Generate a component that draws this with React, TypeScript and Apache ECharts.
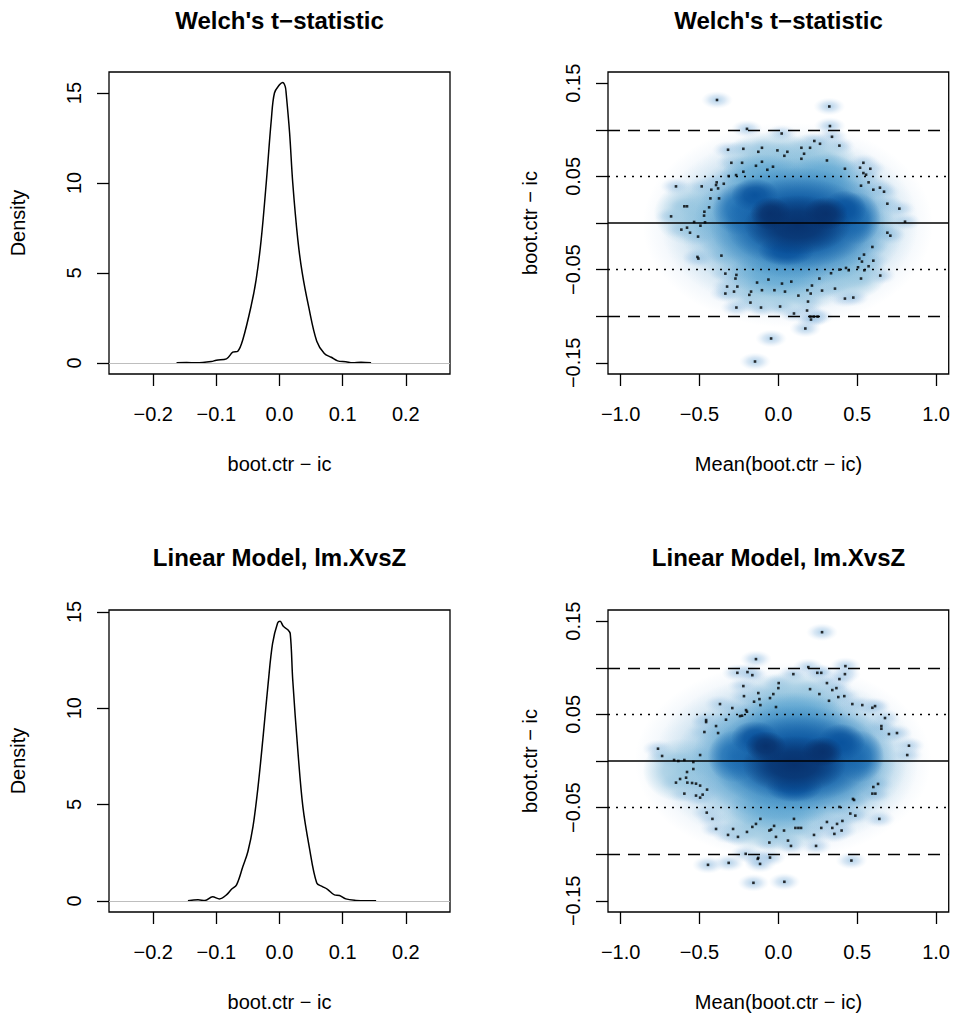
import React, { useEffect, useRef } from "react";
import * as echarts from "echarts";

const FONT = "'Liberation Sans', Arial, Helvetica, sans-serif";

// ---------- texts ----------
const panelTitles = ["Welch's t\u2212statistic", "Welch's t\u2212statistic", "Linear Model, lm.XvsZ", "Linear Model, lm.XvsZ"];
const xNames = ["boot.ctr \u2212 ic", "Mean(boot.ctr \u2212 ic)", "boot.ctr \u2212 ic", "Mean(boot.ctr \u2212 ic)"];
const yNames = ["Density", "boot.ctr \u2212 ic", "Density", "boot.ctr \u2212 ic"];

// ---------- ticks ----------
const densityTicksX = [-0.2, -0.1, 0, 0.1, 0.2];
const densityTicksY = [0, 5, 10, 15];
const meanTicksX = [-1, -0.5, 0, 0.5, 1];
const diffTicksY = [-0.15, -0.1, -0.05, 0, 0.05, 0.1, 0.15];
const diffLabelsY = [-0.15, -0.05, 0.05, 0.15];

// ---------- reference lines ----------
const refSolid = [0];
const refDashed = [-0.1, 0.1];
const refDotted = [-0.05, 0.05];

// ---------- density curves [x, density] ----------
const welchDensity = [
  [-0.163, 0], [-0.147, 0.02], [-0.132, 0], [-0.108, 0.07], [-0.1, 0.15], [-0.084, 0.22],
  [-0.074, 0.59], [-0.066, 0.65], [-0.058, 1.3], [-0.045, 3.15], [-0.037, 4.63], [-0.029, 6.85],
  [-0.021, 10.0], [-0.013, 13.5], [-0.008, 15.0], [0, 15.46], [0.005, 15.59], [0.009, 15.37],
  [0.0105, 15.0], [0.016, 12.78], [0.021, 10.0], [0.029, 6.85], [0.036, 5.0], [0.046, 3.15],
  [0.059, 1.2], [0.071, 0.52], [0.082, 0.31], [0.092, 0.11], [0.105, 0.06], [0.116, 0],
  [0.129, 0.04], [0.145, 0],
];
const lmDensity = [
  [-0.145, 0], [-0.129, 0.05], [-0.118, 0.02], [-0.106, 0.21], [-0.095, 0.1], [-0.084, 0.31],
  [-0.076, 0.6], [-0.068, 0.83], [-0.058, 1.78], [-0.05, 2.56], [-0.042, 3.85], [-0.034, 5.92],
  [-0.026, 8.51], [-0.018, 11.28], [-0.011, 13.35], [-0.003, 14.42], [0.001, 14.52], [0.006, 14.25],
  [0.013, 14.08], [0.017, 13.87], [0.021, 11.45], [0.029, 7.82], [0.037, 4.89], [0.047, 2.82],
  [0.059, 0.92], [0.068, 0.74], [0.076, 0.6], [0.087, 0.31], [0.095, 0.28], [0.105, 0.1],
  [0.121, 0.02], [0.137, 0], [0.153, 0],
];

// ---------- outlying points [mean, difference] ----------
const welchPoints = [
  [-0.389, 0.132], [0.323, 0.125], [-0.199, 0.101], [0.021, 0.096], [0.327, 0.104], [0.34, 0.0925],
  [0.228, 0.088], [0.264, 0.085], [0.387, 0.083], [-0.319, 0.0786], [-0.222, 0.0796], [-0.127, 0.0764],
  [-0.104, 0.0807], [-0.006, 0.0779], [0.057, 0.0764], [0.038, 0.0721], [0.146, 0.0807], [0.201, 0.0807],
  [0.163, 0.0743], [0.146, 0.0689], [0.308, 0.0671], [-0.298, 0.0646], [-0.23, 0.0646], [-0.104, 0.0657],
  [-0.142, 0.0614], [-0.07, 0.0571], [-0.034, 0.0604], [-0.222, 0.055], [-0.315, 0.0504], [-0.268, 0.0514],
  [0.422, 0.0582], [0.518, 0.0593], [0.539, 0.0646], [0.583, 0.0582], [0.539, 0.0536], [0.556, 0.0518],
  [-0.346, 0.0421], [-0.391, 0.0436], [-0.395, 0.0407], [-0.425, 0.0357], [-0.382, 0.0371], [-0.486, 0.0393],
  [-0.649, 0.0393], [0.572, 0.0436], [0.524, 0.04], [0.602, 0.0357], [0.644, 0.0379], [0.67, 0.0336],
  [-0.431, 0.0264], [-0.376, 0.0264], [-0.439, 0.0168], [0.691, 0.0207], [0.767, 0.0154], [-0.596, 0.0179],
  [-0.579, 0.0179], [-0.469, 0.0121], [-0.471, 0.0079], [-0.68, 0.0071], [-0.534, 0.0011], [-0.465, 0.0007],
  [0.803, 0.0014], [-0.494, -0.0029], [-0.579, -0.005], [-0.615, -0.0071], [-0.56, -0.0104], [-0.509, -0.0146],
  [0.691, -0.0104], [0.71, -0.0136], [0.596, -0.0257], [-0.361, -0.035], [-0.513, -0.0364], [-0.507, -0.0382],
  [0.543, -0.0339], [0.513, -0.0382], [0.53, -0.0414], [0.602, -0.0404], [0.572, -0.0464], [0.505, -0.0475],
  [0.429, -0.0482], [0.446, -0.0507], [0.387, -0.05], [0.545, -0.0507], [-0.336, -0.0543], [-0.266, -0.0557],
  [-0.272, -0.0596], [-0.063, -0.0607], [-0.135, -0.0639], [0.023, -0.065], [0.082, -0.0629], [0.334, -0.0539],
  [0.26, -0.0596], [0.213, -0.0671], [0.646, -0.0564], [0.524, -0.0596], [-0.325, -0.0682], [-0.26, -0.0682],
  [-0.281, -0.0736], [-0.336, -0.0757], [-0.173, -0.0736], [-0.104, -0.0721], [-0.025, -0.0721], [0.042, -0.0736],
  [0.184, -0.0721], [0.205, -0.0757], [0.127, -0.0779], [0.277, -0.0725], [0.359, -0.0704], [-0.184, -0.0771],
  [-0.177, -0.0854], [0.188, -0.0843], [0.422, -0.0811], [0.475, -0.08], [-0.266, -0.0907], [-0.11, -0.0907],
  [0.011, -0.0896], [0.182, -0.0939], [0.099, -0.0971], [0.203, -0.1004], [0.224, -0.1004], [0.249, -0.1004],
  [0.207, -0.1036], [0.171, -0.1132], [-0.046, -0.1239], [-0.148, -0.1486],
];
const lmPoints = [
  [0.277, 0.1382], [-0.142, 0.1093], [-0.26, 0.0946], [-0.196, 0.0954], [-0.165, 0.0921], [0.095, 0.0932],
  [0.19, 0.1007], [0.247, 0.0946], [0.272, 0.0946], [0.425, 0.1018], [0.422, 0.0932], [0.387, 0.0879],
  [0.308, 0.0836], [0.002, 0.0836], [0.0, 0.0782], [-0.222, 0.0804], [0.201, 0.0771], [0.342, 0.0761],
  [0.368, 0.0782], [-0.127, 0.0729], [-0.12, 0.0664], [-0.114, 0.06], [-0.218, 0.0696], [-0.154, 0.0636],
  [-0.032, 0.0718], [-0.053, 0.0675], [0.26, 0.0718], [0.38, 0.0686], [0.418, 0.0696], [0.321, 0.0646],
  [-0.37, 0.0611], [-0.292, 0.0568], [-0.015, 0.0579], [0.469, 0.0611], [0.532, 0.06], [0.596, 0.0571],
  [0.613, 0.0589], [-0.205, 0.0546], [-0.199, 0.0529], [-0.243, 0.0482], [-0.23, 0.0486], [-0.458, 0.0439],
  [-0.458, 0.0418], [-0.332, 0.0443], [0.676, 0.0461], [-0.395, 0.0375], [0.653, 0.0375], [0.653, 0.0346],
  [-0.469, 0.0311], [-0.382, 0.03], [0.701, 0.0289], [0.752, 0.03], [-0.763, 0.0132], [-0.737, 0.0054],
  [0.828, 0.0164], [0.817, 0.0064], [-0.496, 0.0064], [-0.661, 0.0011], [-0.634, 0.0], [-0.596, 0.0011],
  [-0.539, -0.0011], [-0.539, -0.0086], [-0.579, -0.0118], [-0.649, -0.0232], [-0.623, -0.0193], [-0.585, -0.0179],
  [-0.577, -0.0232], [-0.547, -0.0236], [-0.522, -0.0243], [-0.496, -0.0264], [-0.452, -0.0307], [-0.596, -0.035],
  [-0.522, -0.0371], [-0.496, -0.0393], [-0.48, -0.0361], [0.602, -0.0279], [0.632, -0.0246], [0.596, -0.035],
  [0.615, -0.035], [0.473, -0.0407], [0.48, -0.0418], [0.387, -0.0493], [-0.454, -0.0554], [-0.418, -0.0621],
  [0.456, -0.0564], [0.488, -0.0586], [-0.395, -0.0729], [-0.287, -0.0729], [-0.319, -0.0793], [-0.256, -0.0814],
  [-0.199, -0.0761], [-0.165, -0.0707], [-0.142, -0.0675], [-0.114, -0.0621], [-0.057, -0.0746], [-0.046, -0.0736],
  [-0.027, -0.0696], [-0.057, -0.0875], [-0.015, -0.0814], [0.099, -0.0621], [0.036, -0.0746], [0.108, -0.0718],
  [0.127, -0.0718], [0.144, -0.0718], [0.061, -0.0854], [0.08, -0.0911], [0.226, -0.0793], [0.239, -0.0911],
  [0.272, -0.0718], [0.308, -0.0654], [0.342, -0.0718], [0.372, -0.0675], [0.406, -0.0643], [0.401, -0.0746],
  [0.355, -0.0782], [0.64, -0.0621], [-0.207, -0.0996], [-0.127, -0.1039], [-0.131, -0.105], [-0.116, -0.1104],
  [-0.053, -0.1036], [-0.315, -0.1093], [-0.446, -0.1114], [0.463, -0.1068], [-0.158, -0.1307], [0.038, -0.1296],
];

// ---------- smoothed density cloud [centre x, centre y, half-width, half-height, shade level] ----------
const welchCloud = [
  [0.06, -0.002, 0.92, 0.11, 2],
  [0.07, 0.0, 0.82, 0.096, 3],
  [-0.05, 0.068, 0.32, 0.03, 3],
  [0.22, 0.066, 0.28, 0.03, 3],
  [0.0, -0.07, 0.4, 0.03, 3],
  [0.45, -0.055, 0.24, 0.028, 3],
  [-0.55, 0.01, 0.24, 0.034, 3],
  [0.09, 0.0, 0.72, 0.082, 4],
  [-0.1, 0.05, 0.27, 0.024, 4],
  [0.3, 0.05, 0.24, 0.024, 4],
  [0.0, -0.055, 0.32, 0.024, 4],
  [0.1, 0.0, 0.64, 0.07, 5],
  [0.12, 0.0, 0.56, 0.06, 6],
  [-0.25, 0.015, 0.17, 0.028, 6],
  [0.5, 0.005, 0.15, 0.028, 6],
  [0.13, 0.0, 0.47, 0.049, 7],
  [-0.15, 0.03, 0.15, 0.018, 7],
  [0.42, 0.015, 0.14, 0.02, 7],
  [0.05, -0.03, 0.18, 0.016, 7],
  [0.12, -0.002, 0.34, 0.032, 8],
  [0.3, 0.01, 0.14, 0.018, 8],
  [-0.05, 0.01, 0.13, 0.018, 8],
];
const lmCloud = [
  [0.03, 0.0, 0.94, 0.106, 2],
  [0.05, 0.0, 0.84, 0.094, 3],
  [0.1, 0.068, 0.36, 0.028, 3],
  [-0.05, -0.07, 0.36, 0.028, 3],
  [-0.62, -0.01, 0.24, 0.034, 3],
  [0.08, 0.0, 0.74, 0.08, 4],
  [0.1, 0.05, 0.32, 0.024, 4],
  [0.0, -0.05, 0.32, 0.024, 4],
  [0.1, 0.002, 0.65, 0.068, 5],
  [0.12, 0.003, 0.56, 0.057, 6],
  [-0.28, 0.005, 0.17, 0.028, 6],
  [0.52, 0.005, 0.15, 0.028, 6],
  [0.13, 0.002, 0.47, 0.047, 7],
  [-0.15, 0.025, 0.15, 0.018, 7],
  [0.4, 0.02, 0.15, 0.02, 7],
  [0.1, -0.028, 0.18, 0.016, 7],
  [0.1, -0.004, 0.33, 0.031, 8],
  [-0.08, 0.016, 0.13, 0.016, 8],
  [0.28, 0.01, 0.13, 0.016, 8],
];

const BLUES = ["#FFFFFF", "#DEEBF7", "#C6DBEF", "#9ECAE1", "#6BAED6", "#4292C6", "#2171B5", "#08519C", "#08306B"];

function rgba(hex: string, a: number) {
  const n = parseInt(hex.slice(1), 16);
  return `rgba(${(n >> 16) & 255},${(n >> 8) & 255},${n & 255},${a})`;
}
function blobFill(hex: string) {
  return {
    type: "radial", x: 0.5, y: 0.5, r: 0.5,
    colorStops: [
      { offset: 0, color: rgba(hex, 0.95) },
      { offset: 0.45, color: rgba(hex, 0.75) },
      { offset: 1, color: rgba(hex, 0) },
    ],
  };
}
const haloFill = {
  type: "radial", x: 0.5, y: 0.5, r: 0.5,
  colorStops: [
    { offset: 0, color: "rgba(150,192,224,0.95)" },
    { offset: 0.5, color: "rgba(185,212,236,0.65)" },
    { offset: 1, color: "rgba(222,235,247,0)" },
  ],
};

const fmt = (d: number) => (v: number) => {
  const s = Math.abs(v).toFixed(d);
  return v < -1e-9 ? "\u2212" + s : s;
};

const GRIDS = [
  { left: 109, top: 72, width: 341, height: 302 },
  { left: 608, top: 72, width: 341, height: 302 },
  { left: 109, top: 610, width: 341, height: 302 },
  { left: 608, top: 610, width: 341, height: 302 },
];

function xAxis(gi: number, min: number, max: number, ticks: number[], d: number) {
  return {
    type: "value", gridIndex: gi, min, max, position: "bottom",
    axisLine: { show: false, onZero: false },
    axisTick: { show: true, inside: false, length: 12, customValues: ticks, lineStyle: { color: "#000", width: 1.3 } },
    axisLabel: { customValues: ticks, formatter: fmt(d), color: "#000", fontSize: 20, fontFamily: FONT, margin: 30 },
    splitLine: { show: false },
  };
}
function yAxis(gi: number, min: number, max: number, ticks: number[], labels: number[], d: number) {
  return {
    type: "value", gridIndex: gi, min, max, position: "left",
    axisLine: { show: false, onZero: false },
    axisTick: { show: true, inside: false, length: 12, customValues: ticks, lineStyle: { color: "#000", width: 1.3 } },
    axisLabel: { customValues: labels, formatter: fmt(d), color: "#000", fontSize: 20, fontFamily: FONT, margin: 25, rotate: 90 },
    splitLine: { show: false },
  };
}

function refLines() {
  const lines: any[] = [];
  refSolid.forEach((v) => lines.push({ yAxis: v, lineStyle: { color: "#000", width: 1.5, type: "solid" } }));
  refDashed.forEach((v) => lines.push({ yAxis: v, lineStyle: { color: "#000", width: 1.3, type: [12, 8] } }));
  refDotted.forEach((v) => lines.push({ yAxis: v, lineStyle: { color: "#000", width: 1.3, type: [2, 6] } }));
  return lines;
}

function densitySeries(gi: number, data: number[][]) {
  return {
    type: "line", xAxisIndex: gi, yAxisIndex: gi, data, smooth: 0.35, showSymbol: false, symbol: "none",
    lineStyle: { color: "#000", width: 1.5 }, z: 3, silent: true,
    markLine: {
      silent: true, symbol: ["none", "none"], label: { show: false },
      data: [{ yAxis: 0, lineStyle: { color: "#BEBEBE", width: 1.2, type: "solid" } }],
    },
  };
}

function cloudSeries(gi: number, cloud: number[][], points: number[][]) {
  return [
    {
      type: "scatter", xAxisIndex: gi, yAxisIndex: gi, data: points, symbol: "circle", symbolSize: [32, 18],
      itemStyle: { color: haloFill }, z: 1, silent: true,
    },
    {
      type: "custom", xAxisIndex: gi, yAxisIndex: gi, data: cloud, z: 2, silent: true,
      renderItem: (_p: any, api: any) => {
        const c = api.coord([api.value(0), api.value(1)]);
        const s = api.size([api.value(2), api.value(3)]);
        const col = BLUES[api.value(4)];
        return { type: "ellipse", shape: { cx: c[0], cy: c[1], rx: s[0], ry: s[1] }, style: { fill: blobFill(col) } };
      },
    },
    {
      type: "scatter", xAxisIndex: gi, yAxisIndex: gi, data: points, symbol: "rect", symbolSize: 2.6,
      itemStyle: { color: "#000" }, z: 3, silent: true,
    },
    {
      type: "line", xAxisIndex: gi, yAxisIndex: gi, data: [], z: 4, silent: true,
      markLine: { silent: true, symbol: ["none", "none"], label: { show: false }, data: refLines() },
    },
  ];
}

function texts() {
  const els: any[] = [];
  GRIDS.forEach((g, i) => {
    const cx = g.left + g.width / 2;
    const cy = g.top + g.height / 2;
    const row = i < 2 ? 0 : 1;
    els.push({
      type: "text", x: cx, y: row === 0 ? 20.5 : 557,
      style: { text: panelTitles[i], fontFamily: FONT, fontSize: 24, fontWeight: "bold", fill: "#000", align: "center", verticalAlign: "middle" },
    });
    els.push({
      type: "text", x: cx, y: g.top + g.height + 90,
      style: { text: xNames[i], fontFamily: FONT, fontSize: 20, fill: "#000", align: "center", verticalAlign: "middle" },
    });
    els.push({
      type: "text", x: i % 2 === 0 ? 17.7 : 529.7, y: cy, rotation: Math.PI / 2,
      style: { text: yNames[i], fontFamily: FONT, fontSize: 20, fill: "#000", align: "center", verticalAlign: "middle" },
    });
  });
  return els;
}

export default function App() {
  const ref = useRef<HTMLDivElement>(null);
  useEffect(() => {
    if (!ref.current) return;
    const chart = echarts.init(ref.current, undefined, { renderer: "svg" });
    const option: any = {
      animation: false,
      backgroundColor: "#fff",
      textStyle: { fontFamily: FONT },
      grid: GRIDS.map((g) => ({ ...g, show: true, borderColor: "#000", borderWidth: 1.3, backgroundColor: "transparent", containLabel: false })),
      xAxis: [
        xAxis(0, -0.27, 0.27, densityTicksX, 1),
        xAxis(1, -1.08, 1.08, meanTicksX, 1),
        xAxis(2, -0.27, 0.27, densityTicksX, 1),
        xAxis(3, -1.08, 1.08, meanTicksX, 1),
      ],
      yAxis: [
        yAxis(0, -0.62, 16.17, densityTicksY, densityTicksY, 0),
        yAxis(1, -0.162, 0.162, diffTicksY, diffLabelsY, 2),
        yAxis(2, -0.58, 15.1, densityTicksY, densityTicksY, 0),
        yAxis(3, -0.162, 0.162, diffTicksY, diffLabelsY, 2),
      ],
      series: [
        densitySeries(0, welchDensity),
        ...cloudSeries(1, welchCloud, welchPoints),
        densitySeries(2, lmDensity),
        ...cloudSeries(3, lmCloud, lmPoints),
      ],
      graphic: texts(),
    };
    chart.setOption(option);
    return () => chart.dispose();
  }, []);
  return <div ref={ref} style={{ width: 953, height: 1015, position: "absolute", left: 0, top: 0 }} />;
}
